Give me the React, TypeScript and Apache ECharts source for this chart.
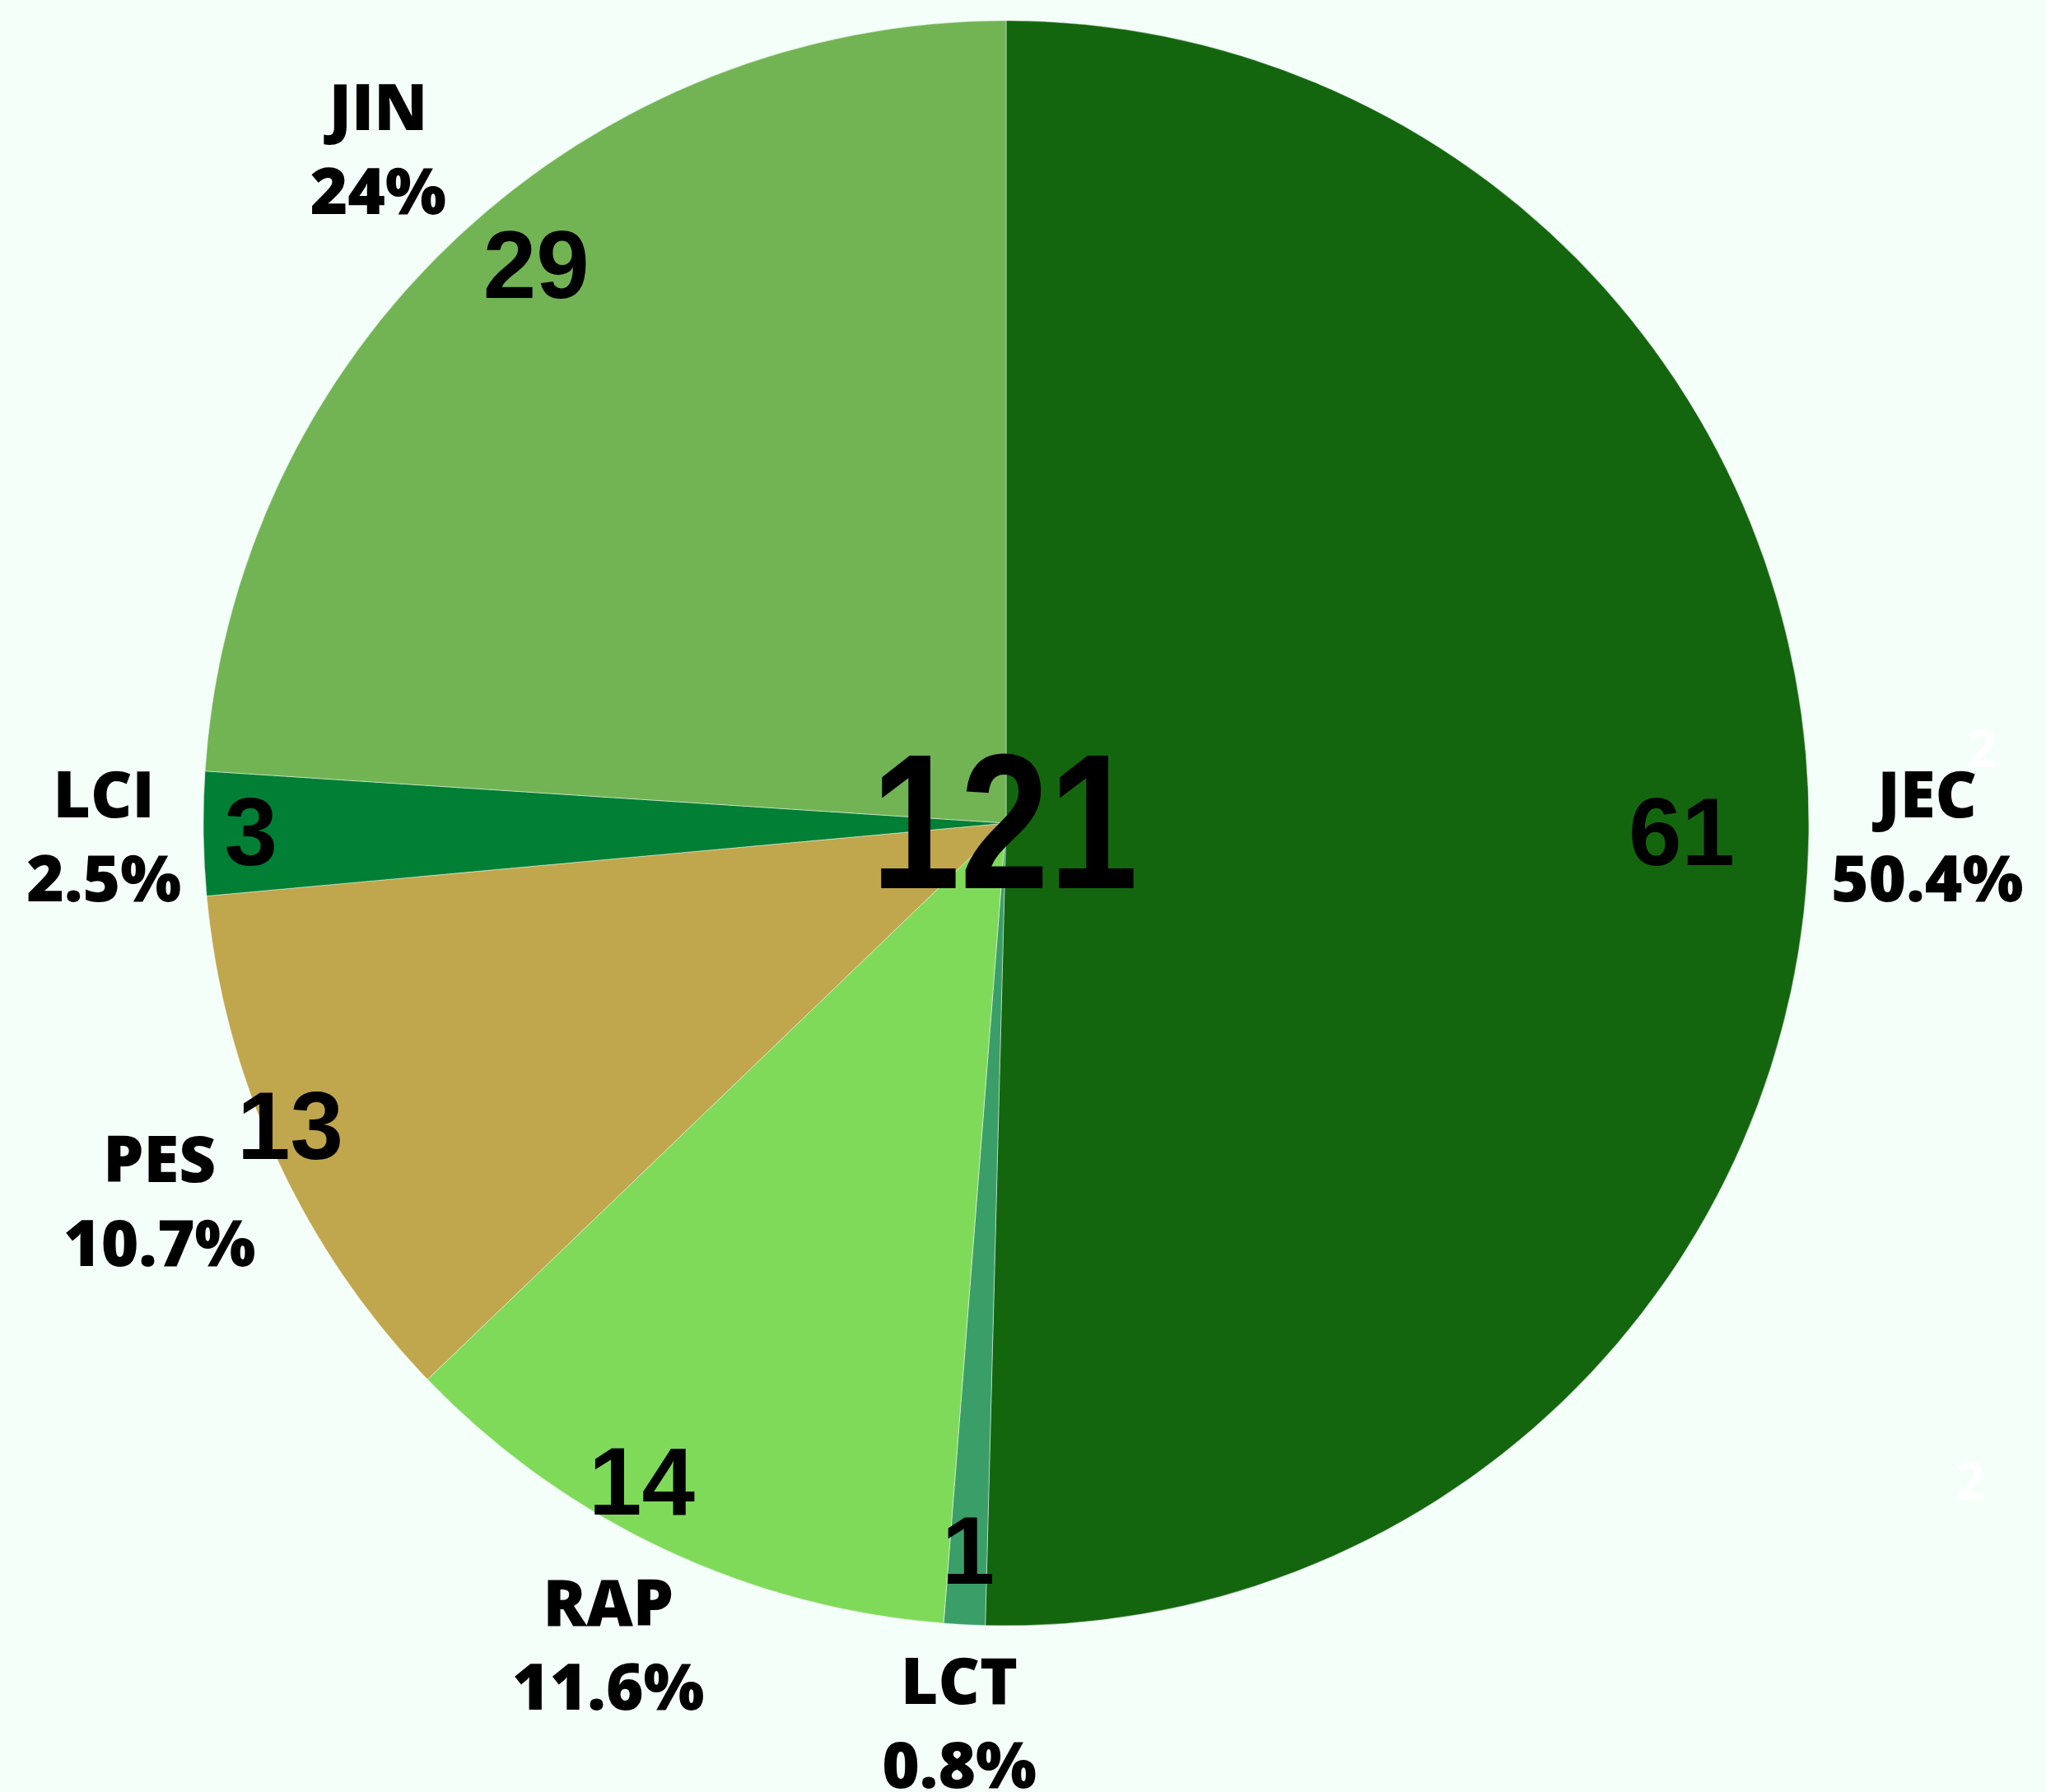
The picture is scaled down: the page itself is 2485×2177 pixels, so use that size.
import React, { useEffect, useRef } from "react";
import * as echarts from "echarts";

const categories = ["JEC", "LCT", "RAP", "PES", "LCI", "JIN"];
const values = [61, 1, 14, 13, 3, 29];
const colors = ["#14660e", "#3a9e68", "#80da5a", "#c0a64d", "#007f35", "#72b454"];
const extraLabels = ["2", "2"];

export default function App() {
  const ref = useRef<HTMLDivElement>(null);
  useEffect(() => {
    document.body.style.margin = "0";
    document.body.style.background = "#f4fffa";
    const chart = echarts.init(ref.current!, null, { renderer: "svg" });
    const total = values.reduce((a, b) => a + b, 0);
    const CX = 1222;
    const CY = 1000;
    const R = 975;
    const midAngle = (i: number) => {
      let before = 0;
      for (let j = 0; j < i; j++) before += values[j];
      return ((before + values[i] / 2) / total) * Math.PI * 2;
    };
    const pct = (v: number) => parseFloat(((v / total) * 100).toFixed(1)) + "%";
    const data = categories.map((c, i) => ({
      name: c,
      value: values[i],
      itemStyle: { color: colors[i] },
    }));

    chart.setOption({
      animation: false,
      backgroundColor: "#f4fffa",
      series: [
        {
          type: "pie",
          center: [CX, CY],
          radius: [0, R],
          startAngle: 90,
          clockwise: true,
          avoidLabelOverlap: false,
          itemStyle: { borderColor: "rgba(255,255,255,0.45)", borderWidth: 1 },
          label: {
            show: true,
            position: "inside",
            formatter: "{c}",
            fontFamily: "Liberation Sans",
            fontWeight: "bold",
            fontSize: 116,
            color: "#000",
          },
          labelLine: { show: false },
          labelLayout: (p: any) => {
            const a = midAngle(p.dataIndex);
            const vx = Math.sin(a);
            const vy = -Math.cos(a);
            const align = Math.abs(vx) < 0.2 ? "center" : vx < 0 && vy < -0.5 ? "left" : "right";
            const d = align === "left" ? 929 : 885;
            return {
              x: CX + d * vx,
              y: CY + d * vy,
              align,
              verticalAlign: "middle",
            };
          },
          data,
        },
        {
          type: "pie",
          center: [CX, CY],
          radius: [0, R],
          startAngle: 90,
          clockwise: true,
          silent: true,
          avoidLabelOverlap: false,
          itemStyle: { color: "rgba(0,0,0,0)", borderWidth: 0 },
          label: {
            show: true,
            position: "outside",
            formatter: (p: any) => `{n|${p.name}}\n{p|${pct(p.value)}}`,
            rich: {
              n: {
                fontFamily: "Open Sans",
                fontWeight: 800,
                fontSize: 78,
                lineHeight: 102,
                color: "#000",
                align: "center",
              },
              p: {
                fontFamily: "Open Sans",
                fontWeight: 800,
                fontSize: 78,
                lineHeight: 102,
                color: "#000",
                align: "center",
              },
            },
          },
          labelLine: { show: false },
          labelLayout: (p: any) => {
            const a = midAngle(p.dataIndex);
            const vx = Math.sin(a);
            const vy = -Math.cos(a);
            const m = Math.max(Math.abs(vx), Math.abs(vy));
            const w = p.labelRect.width;
            const h = p.labelRect.height;
            const o = 27;
            return {
              x: CX + (R + o) * vx + (w / 2) * (vx / m),
              y: CY + (R + o) * vy + (h / 2) * (vy / m),
              align: "center",
              verticalAlign: "middle",
            };
          },
          data: categories.map((c, i) => ({ name: c, value: values[i] })),
        },
      ],
      graphic: [
        {
          type: "text",
          x: CX - 2,
          y: CY - 2,
          scaleX: 0.83,
          style: {
            text: String(total),
            fontFamily: "Liberation Sans",
            fontWeight: "bold",
            fontSize: 234,
            fill: "#000",
            textAlign: "center",
            textVerticalAlign: "middle",
          },
          z: 100,
        },
        {
          type: "text",
          x: 2407,
          y: 907,
          style: {
            text: extraLabels[0],
            fontFamily: "Open Sans",
            fontWeight: "bold",
            fontSize: 64,
            fill: "#ffffff",
            textAlign: "center",
            textVerticalAlign: "middle",
          },
        },
        {
          type: "text",
          x: 2393,
          y: 1797,
          style: {
            text: extraLabels[1],
            fontFamily: "Open Sans",
            fontWeight: "bold",
            fontSize: 64,
            fill: "#ffffff",
            textAlign: "center",
            textVerticalAlign: "middle",
          },
        },
      ],
    });
    return () => chart.dispose();
  }, []);
  return <div ref={ref} style={{ width: 2485, height: 2177 }} />;
}
